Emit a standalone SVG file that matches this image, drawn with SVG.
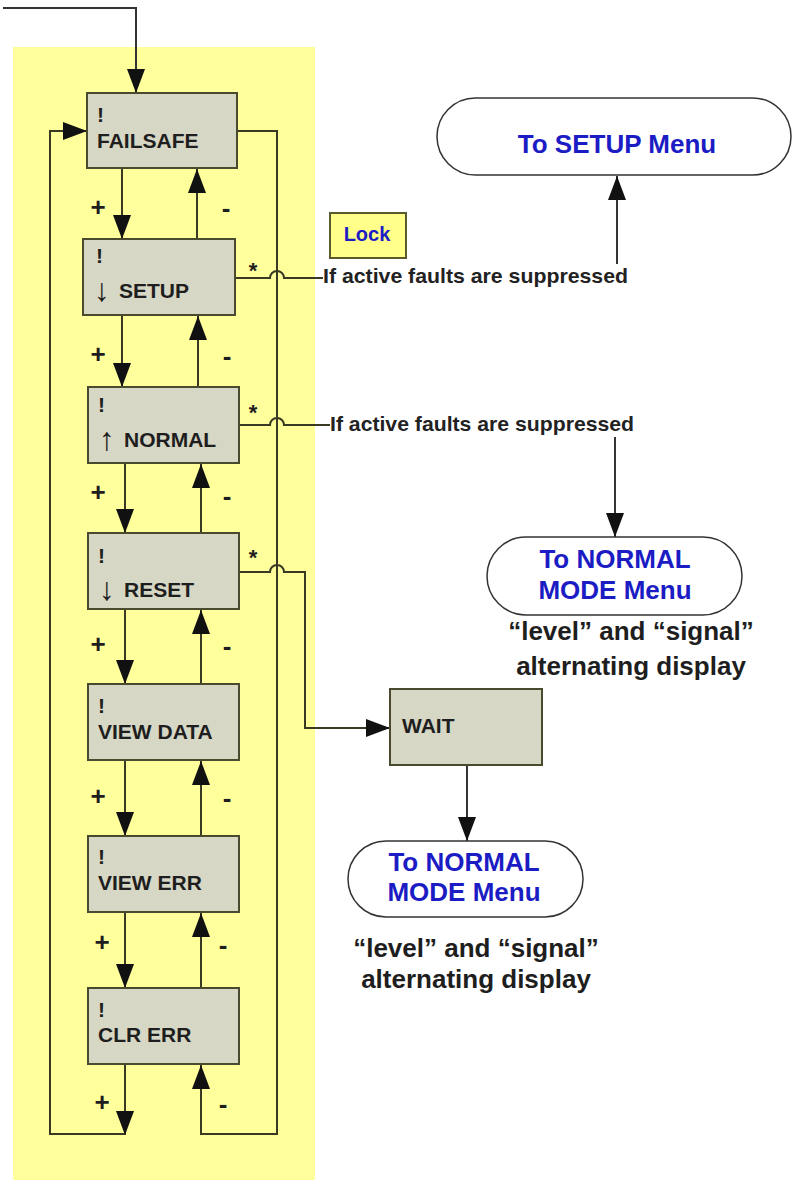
<svg xmlns="http://www.w3.org/2000/svg" width="794" height="1180" viewBox="0 0 794 1180">
<style>
.box{fill:#d7d7c5;stroke:#4a4a2e;stroke-width:2}
.lbl{font-family:"Liberation Sans",Arial,sans-serif;font-weight:bold;font-size:21px;fill:#1e1e1e}
.arr{font-family:"Liberation Sans",Arial,sans-serif;font-weight:normal;font-size:32px;fill:#1e1e1e}
.sym{font-family:"Liberation Sans",Arial,sans-serif;font-weight:bold;font-size:26px;fill:#1e1e1e;text-anchor:middle}
.star{font-family:"Liberation Sans",Arial,sans-serif;font-weight:bold;font-size:22px;fill:#1e1e1e;text-anchor:middle}
.blue{font-family:"Liberation Sans",Arial,sans-serif;font-weight:bold;font-size:26px;fill:#1c1cc4;text-anchor:middle}
.lock{font-family:"Liberation Sans",Arial,sans-serif;font-weight:bold;font-size:20px;fill:#1c1cc4;text-anchor:middle}
.note{font-family:"Liberation Sans",Arial,sans-serif;font-weight:bold;font-size:21px;fill:#222}
.sub{font-family:"Liberation Sans",Arial,sans-serif;font-weight:bold;font-size:26px;fill:#1e1e1e;text-anchor:middle}
.oval{fill:#ffffff;stroke:#333;stroke-width:1.5}
.ln{fill:none;stroke:#3a3a24;stroke-width:2}
.lo{fill:none;stroke:#333;stroke-width:2}
</style>
<defs>
<marker id="ah" markerUnits="userSpaceOnUse" markerWidth="25" markerHeight="18" refX="24" refY="9" orient="auto">
<path d="M0,0 L24,9 L0,18 z" fill="#111"/>
</marker>
</defs>
<rect id="panel" x="13" y="47" width="302" height="1133" fill="#ffff9c"/>
<g id="connectors">
<path class="lo" d="M3 8 H136 V93" stroke="#444" marker-end="url(#ah)"/>
<path class="ln" d="M122 168 V239" marker-end="url(#ah)"/>
<path class="ln" d="M197 239 V169" marker-end="url(#ah)"/>
<path class="ln" d="M122 315 V387" marker-end="url(#ah)"/>
<path class="ln" d="M198 387 V316" marker-end="url(#ah)"/>
<path class="ln" d="M125 463 V533" marker-end="url(#ah)"/>
<path class="ln" d="M201 533 V464" marker-end="url(#ah)"/>
<path class="ln" d="M125 609 V684" marker-end="url(#ah)"/>
<path class="ln" d="M201 684 V610" marker-end="url(#ah)"/>
<path class="ln" d="M125 760 V836" marker-end="url(#ah)"/>
<path class="ln" d="M201 836 V761" marker-end="url(#ah)"/>
<path class="ln" d="M125 912 V988" marker-end="url(#ah)"/>
<path class="ln" d="M201 988 V913" marker-end="url(#ah)"/>
<path class="ln" d="M125 1064 V1135" marker-end="url(#ah)"/>
<path class="ln" d="M125 1134 H50 V131 H87" marker-end="url(#ah)"/>
<path class="ln" d="M237 131 H277 V1134 H201 V1065" marker-end="url(#ah)"/>
<path class="ln" d="M235 278 H270 A7 7 0 0 1 284 278 H323"/>
<path class="ln" d="M239 425 H270 A7 7 0 0 1 284 425 H330"/>
<path class="ln" d="M239 572 H270 A7 7 0 0 1 284 572 H305 V728 H390" marker-end="url(#ah)"/>
<path class="lo" d="M617 264 V176" stroke="#555" marker-end="url(#ah)"/>
<path class="lo" d="M615 437 V537" marker-end="url(#ah)"/>
<path class="lo" d="M467 765 V841" marker-end="url(#ah)"/>
</g>
<g id="signs">
<text class="sym" x="98" y="216">+</text>
<text class="sym" x="226" y="217">-</text>
<text class="sym" x="98" y="363">+</text>
<text class="sym" x="227" y="365">-</text>
<text class="sym" x="98" y="501">+</text>
<text class="sym" x="227" y="505">-</text>
<text class="sym" x="98" y="653">+</text>
<text class="sym" x="227" y="655">-</text>
<text class="sym" x="98" y="805">+</text>
<text class="sym" x="227" y="807">-</text>
<text class="sym" x="102" y="951">+</text>
<text class="sym" x="223" y="954">-</text>
<text class="sym" x="102" y="1111">+</text>
<text class="sym" x="223" y="1113">-</text>
<text class="star" x="253" y="278">*</text>
<text class="star" x="253" y="420">*</text>
<text class="star" x="253" y="565">*</text>
</g>
<g id="n-failsafe">
<rect class="box" x="87" y="93" width="150" height="75"/>
<text class="lbl" x="97" y="122">!</text>
<text class="lbl" x="97" y="148">FAILSAFE</text>
</g>
<g id="n-setup">
<rect class="box" x="83" y="239" width="152" height="76"/>
<text class="lbl" x="96" y="263">!</text>
<text class="arr" x="94" y="301">↓</text>
<text class="lbl" x="119" y="298">SETUP</text>
</g>
<g id="n-normal">
<rect class="box" x="88" y="387" width="151" height="76"/>
<text class="lbl" x="98" y="412">!</text>
<text class="arr" x="99" y="450">↑</text>
<text class="lbl" x="124" y="447">NORMAL</text>
</g>
<g id="n-reset">
<rect class="box" x="88" y="533" width="151" height="76"/>
<text class="lbl" x="98" y="563">!</text>
<text class="arr" x="99" y="600">↓</text>
<text class="lbl" x="124" y="597">RESET</text>
</g>
<g id="n-viewdata">
<rect class="box" x="88" y="684" width="151" height="76"/>
<text class="lbl" x="98" y="713">!</text>
<text class="lbl" x="98" y="739">VIEW DATA</text>
</g>
<g id="n-viewerr">
<rect class="box" x="88" y="836" width="151" height="76"/>
<text class="lbl" x="98" y="864">!</text>
<text class="lbl" x="98" y="890">VIEW ERR</text>
</g>
<g id="n-clrerr">
<rect class="box" x="88" y="988" width="151" height="76"/>
<text class="lbl" x="98" y="1017">!</text>
<text class="lbl" x="98" y="1042">CLR ERR</text>
</g>
<g id="n-wait">
<rect class="box" x="390" y="689" width="152" height="76"/>
<text class="lbl" x="402" y="733">WAIT</text>
</g>
<g id="n-lock">
<rect x="330" y="213" width="76" height="45" fill="#ffff8a" stroke="#5a5a2a" stroke-width="2"/>
<text class="lock" x="367" y="241">Lock</text>
</g>
<g id="n-note1">
<text class="note" x="323" y="283" textLength="305" lengthAdjust="spacingAndGlyphs">If active faults are suppressed</text>
</g>
<g id="n-note2">
<text class="note" x="330" y="431" textLength="304" lengthAdjust="spacingAndGlyphs">If active faults are suppressed</text>
</g>
<g id="n-tosetup">
<rect class="oval" x="437" y="98" width="354" height="77" rx="38.5"/>
<text class="blue" x="617" y="153">To SETUP Menu</text>
</g>
<g id="n-tonormal1">
<rect class="oval" x="487" y="537" width="255" height="78" rx="39"/>
<text class="blue" x="615" y="568">To NORMAL</text>
<text class="blue" x="615" y="599">MODE Menu</text>
<text class="sub" x="631" y="640">“level” and “signal”</text>
<text class="sub" x="631" y="675">alternating display</text>
</g>
<g id="n-tonormal2">
<rect class="oval" x="348" y="841" width="235" height="76" rx="38"/>
<text class="blue" x="464" y="871">To NORMAL</text>
<text class="blue" x="464" y="901">MODE Menu</text>
<text class="sub" x="476" y="957">“level” and “signal”</text>
<text class="sub" x="476" y="988">alternating display</text>
</g>
</svg>
